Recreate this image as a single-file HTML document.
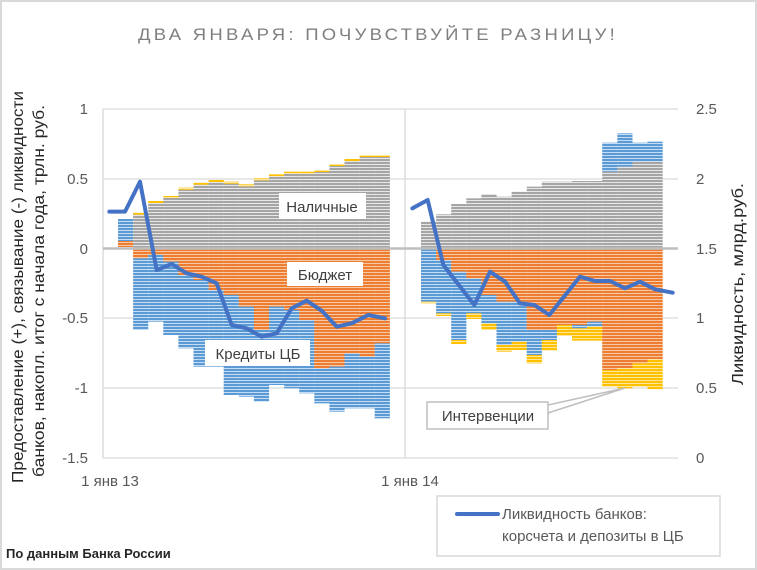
<!DOCTYPE html>
<html><head><meta charset="utf-8"><style>
body{margin:0;background:#fff}
svg{display:block;font-family:"Liberation Sans","DejaVu Sans",sans-serif}
</style></head><body>
<svg id="s" width="757" height="570" viewBox="0 0 757 570" xmlns="http://www.w3.org/2000/svg">
<defs>
<pattern id="pg" width="4" height="3" patternUnits="userSpaceOnUse"><rect width="4" height="3" fill="#e6e6e6"/><rect width="4" height="2" fill="#a5a5a5"/></pattern>
<pattern id="po" width="4" height="3" patternUnits="userSpaceOnUse"><rect width="4" height="3" fill="#f8c8a4"/><rect width="4" height="2" fill="#ed7d31"/></pattern>
<pattern id="pb" width="4" height="3" patternUnits="userSpaceOnUse"><rect width="4" height="3" fill="#c6dcf2"/><rect width="4" height="2" fill="#5b9bd5"/></pattern>
<pattern id="py" width="4" height="3" patternUnits="userSpaceOnUse"><rect width="4" height="3" fill="#ffe699"/><rect width="4" height="2" fill="#ffc000"/></pattern>
</defs>
<rect x="1" y="1" width="755" height="568" fill="#fff" stroke="#d9d9d9" stroke-width="2"/>
<text x="378" y="40" text-anchor="middle" font-size="17" fill="#7f7f7f" letter-spacing="3" textLength="480" lengthAdjust="spacingAndGlyphs">ДВА ЯНВАРЯ: ПОЧУВСТВУЙТЕ РАЗНИЦУ!</text>
<g id="grid" stroke="#d9d9d9" stroke-width="1.3">
<line x1="103" y1="109" x2="678" y2="109"/><line x1="103" y1="179" x2="678" y2="179"/>
<line x1="103" y1="318" x2="678" y2="318"/><line x1="103" y1="388" x2="678" y2="388"/>
<line x1="103" y1="458" x2="678" y2="458"/>
<line x1="103" y1="109" x2="103" y2="458"/><line x1="405" y1="109" x2="405" y2="458"/>
</g>
<g id="bars"></g>
<line x1="103" y1="248.5" x2="678" y2="248.5" stroke="#bfbfbf" stroke-width="2.5"/>
<polyline id="l1" fill="none" stroke="#4472c4" stroke-width="4" stroke-linejoin="round" stroke-linecap="round"/>
<polyline id="l2" fill="none" stroke="#4472c4" stroke-width="4" stroke-linejoin="round" stroke-linecap="round"/>
<g font-size="15" fill="#595959">
<text x="88" y="114" text-anchor="end">1</text>
<text x="88" y="184" text-anchor="end">0.5</text>
<text x="88" y="254" text-anchor="end">0</text>
<text x="88" y="323" text-anchor="end">-0.5</text>
<text x="88" y="393" text-anchor="end">-1</text>
<text x="88" y="463" text-anchor="end">-1.5</text>
<text x="696" y="114">2.5</text>
<text x="696" y="184">2</text>
<text x="696" y="254">1.5</text>
<text x="696" y="323">1</text>
<text x="696" y="393">0.5</text>
<text x="696" y="463">0</text>
<text x="110" y="486" text-anchor="middle">1 янв 13</text>
<text x="410" y="486" text-anchor="middle">1 янв 14</text>
</g>
<g font-size="16" fill="#262626">
<text transform="translate(23,287) rotate(-90)" text-anchor="middle" textLength="392" lengthAdjust="spacingAndGlyphs">Предоставление (+), связывание (-) ликвидности</text>
<text transform="translate(44,291) rotate(-90)" text-anchor="middle" textLength="372" lengthAdjust="spacingAndGlyphs">банков, накопл. итог с начала года, трлн. руб.</text>
<text transform="translate(743,284) rotate(-90)" text-anchor="middle" textLength="202" lengthAdjust="spacingAndGlyphs">Ликвидность, млрд.руб.</text>
</g>
<g font-size="15" fill="#404040">
<rect x="279" y="193" width="87" height="26" fill="#fff"/><text x="322" y="212" text-anchor="middle">Наличные</text>
<rect x="287" y="262" width="76" height="24" fill="#fff"/><text x="325" y="280" text-anchor="middle">Бюджет</text>
<rect x="205" y="340" width="105" height="26" fill="#fff"/><text x="258" y="359" text-anchor="middle">Кредиты ЦБ</text>
<polyline points="548,405 625,388 548,413" fill="none" stroke="#bfbfbf" stroke-width="1.5"/>
<rect x="427" y="402" width="121" height="27" fill="#fff" stroke="#bfbfbf" stroke-width="1.5"/><text x="488" y="421" text-anchor="middle">Интервенции</text>
</g>
<rect x="437" y="496" width="283" height="60" fill="#fff" stroke="#d9d9d9" stroke-width="1.5"/>
<line x1="457" y1="514" x2="498" y2="514" stroke="#4472c4" stroke-width="4" stroke-linecap="round"/>
<g font-size="15" fill="#595959"><text x="502" y="519">Ликвидность банков:</text><text x="502" y="541">корсчета и депозиты в ЦБ</text></g>
<text x="6" y="558" font-size="13" font-weight="bold" fill="#262626">По данным Банка России</text>
</svg>
<script>
var g=document.getElementById('bars'),Z=248;
function R(x,y1,y2,p){if(Math.abs(y2-y1)<0.5)return;var r=document.createElementNS('http://www.w3.org/2000/svg','rect');r.setAttribute('x',x);r.setAttribute('width',15.2);r.setAttribute('y',Math.min(y1,y2));r.setAttribute('height',Math.abs(y2-y1));r.setAttribute('fill','url(#'+p+')');g.appendChild(r);}
var L=[[0,0,0],[218,355,570],[183,345,545],[168,365,585],[143,405,625],[128,420,680],[120,450,680],[125,465,765],[133,500,770],[115,570,785],[103,500,735],[95,510,745],[95,540,760],[90,685,790],[72,680,815],[57,640,805],[45,650,805],[45,610,835]];
L.forEach(function(b,i){var x=118+i*15.1;if(i==0){R(x,219,241,'pb');R(x,241,247,'po');return;}
var gt=140+b[0]/3,ob=140+b[1]/3,bb=140+b[2]/3;R(x,Z,gt+2,'pg');R(x,gt,gt+2,'py');R(x,Z,ob,'po');R(x,ob,bb,'pb');});
var Rr=[[305,0,390,545,550],[283,0,420,580,588],[252,0,455,660,672],[235,0,475,580,597],[222,0,525,610,630],[230,0,545,675,695],[215,0,545,665,690],[200,0,630,705,730],[185,0,630,660,692],[185,0,615,615,648],[183,0,615,625,662],[183,0,605,620,662],[155,68,750,750,800],[140,40,745,745,805],[125,68,730,730,800],[125,65,718,718,808]];
Rr.forEach(function(b,i){var x=421+i*15.1;var gt=120+b[0]/3;R(x,Z,gt,'pg');if(b[1])R(x,gt,120+b[1]/3,'pb');
var ob=120+b[2]/3,bb=120+b[3]/3,yb=120+b[4]/3;if(i==0){R(x,Z,bb,'pb');}else{R(x,Z,ob,'po');R(x,ob,bb,'pb');}R(x,bb,yb,'py');});
var p1=[[28,215],[75,215],[120,125],[170,390],[215,372],[260,400],[305,410],[350,430],[395,555],[440,565],[485,590],[530,580],[575,505],[620,482],[665,512],[710,560],[755,550],[805,525],[855,535]];
document.getElementById('l1').setAttribute('points',p1.map(function(p){return (100+p[0]/3)+','+(140+p[1]/3)}).join(' '));
var p2=[[22,265],[68,240],[115,435],[208,555],[255,455],[300,485],[345,550],[388,555],[433,585],[525,470],[570,483],[615,483],[660,505],[705,485],[750,508],[803,518]];
document.getElementById('l2').setAttribute('points',p2.map(function(p){return (405+p[0]/3)+','+(120+p[1]/3)}).join(' '));
</script>
</body></html>
